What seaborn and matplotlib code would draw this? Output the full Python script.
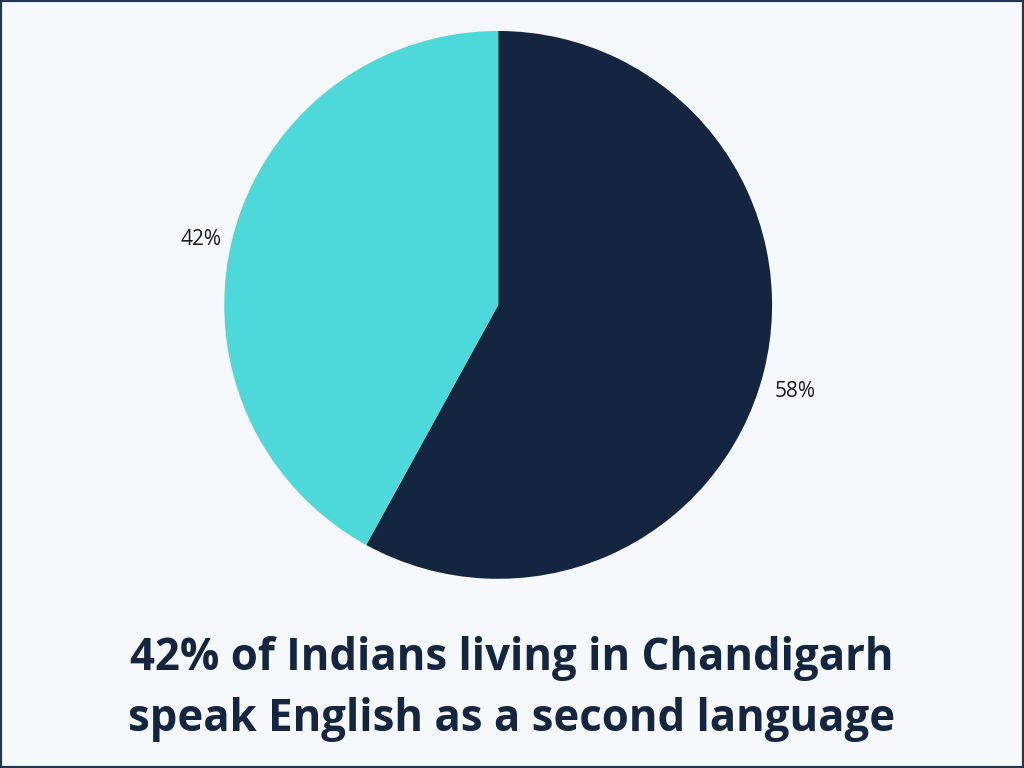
import matplotlib
matplotlib.use("Agg")
import matplotlib.pyplot as plt
import seaborn as sns
from matplotlib.patches import Rectangle

# Datos
labels = ["Otro", "Inglés como segunda lengua"]
shares = [58, 42]
colors = ["#14263F", "#4DD8DA"]
title_text = "42% of Indians living in Chandigarh\nspeak English as a second language"

sns.set_style("white")
plt.rcParams['font.family'] = ['Open Sans', 'DejaVu Sans']

bg = "#F5F9FC"
fig = plt.figure(figsize=(10.24, 7.68), dpi=100, facecolor=bg)

# Pie
ax = fig.add_axes([0.219, 0.246, 0.535, 0.714])
ax.set_facecolor(bg)
wedges, texts, autotexts = ax.pie(
  shares, colors=colors, startangle=90, counterclock=False,
  autopct='%d%%', pctdistance=1.12, labeldistance=None,
  textprops={'fontsize': 15, 'color': '#1a1a1a'},
  wedgeprops={'linewidth': 0})
for t in autotexts:
  t.set_va('top')
ax.set_xlim(-1, 1)
ax.set_ylim(-1, 1)
ax.set_aspect('equal')
ax.axis('off')

# Titulo
fig.text(0.5, 0.103, title_text, ha='center', va='center',
         fontsize=31.5, fontweight='bold', color='#14263F', linespacing=1.48)

# Borde
fig.patches.append(Rectangle((0, 0), 1, 1, transform=fig.transFigure,
                             fill=False, edgecolor='#1F3552', linewidth=3))

fig.savefig("out.png", dpi=100, facecolor=bg)
